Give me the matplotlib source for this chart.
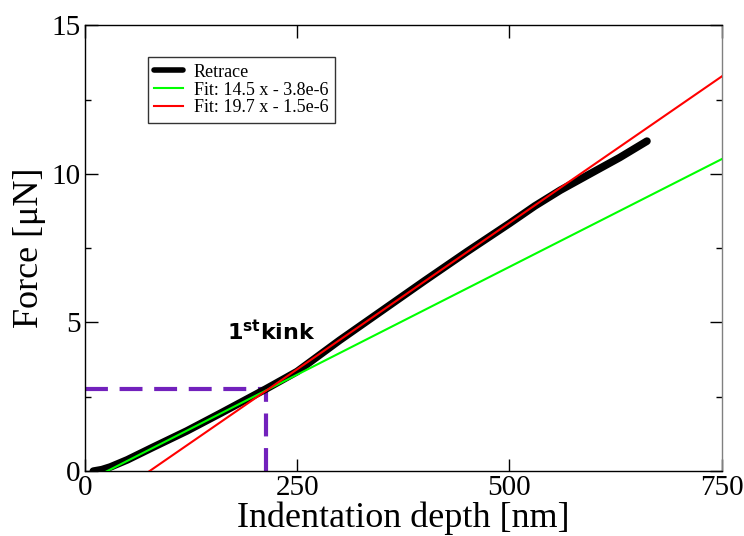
import matplotlib
matplotlib.use("Agg")
import matplotlib.pyplot as plt
import numpy as np
from matplotlib.ticker import MultipleLocator

# Retrace curve: indentation depth (nm) and force (uN)
depth_nm = [10, 20, 30, 50, 80, 120, 160, 213, 250, 300, 350, 400,
            450, 500, 530, 560, 600, 630, 662]
force_uN = [0.0, 0.05, 0.14, 0.38, 0.8, 1.35, 1.95, 2.76, 3.35, 4.4,
            5.4, 6.4, 7.38, 8.33, 8.92, 9.45, 10.08, 10.55, 11.1]

# Linear fits, SI units: slope in N/m, intercept in N
fit_slopes = [14.5, 19.7]
fit_intercepts = [-3.8e-7, -1.5e-6]
fit_labels = ["Fit: 14.5 x - 3.8e-6", "Fit: 19.7 x - 1.5e-6"]
fit_colors = ["#00ff00", "#ff0000"]

# First kink position
kink_depth = 213
kink_force = 2.76

plt.rcParams["font.family"] = ["Liberation Serif", "DejaVu Serif"]

fig = plt.figure(figsize=(7.44, 5.36), dpi=100)
ax = fig.add_axes([0.114, 0.121, 0.856, 0.832])

ax.plot(depth_nm, force_uN, color="black", lw=5.5, solid_capstyle="round",
        solid_joinstyle="round", label="Retrace", zorder=3)

xs = np.array([0.0, 750.0])
for k, b, lab, c in zip(fit_slopes, fit_intercepts, fit_labels, fit_colors):
    # convert N/m -> uN/nm and N -> uN
    ys = k * 1e-3 * xs + b * 1e6
    ax.plot(xs, ys, color=c, lw=1.5, label=lab, zorder=4)

purple = "#7221bc"
ax.plot([0, kink_depth], [kink_force, kink_force], color=purple, lw=3,
        dashes=(5.5, 2.8), zorder=2)
ax.plot([kink_depth, kink_depth], [0, kink_force], color=purple, lw=3,
        dashes=(5.5, 2.8), zorder=2)

ax.text(168, 4.4, r"$\mathbf{1^{st}}$kink", family="DejaVu Sans",
        fontweight="bold", fontsize=16)

ax.set_xlim(0, 750)
ax.set_ylim(0, 15)
ax.xaxis.set_major_locator(MultipleLocator(250))
ax.yaxis.set_major_locator(MultipleLocator(5))
ax.yaxis.set_minor_locator(MultipleLocator(2.5))
ax.tick_params(which="both", direction="in", top=True, right=True,
               labelsize=21, pad=3)
ax.tick_params(which="major", length=9, width=1)
ax.tick_params(which="minor", length=4.5, width=1)
for s in ax.spines.values():
    s.set_linewidth(1)
ax.spines["right"].set_color("#808080")

ax.set_xlabel("Indentation depth [nm]", fontsize=26, labelpad=0)
ax.set_ylabel("Force [\u03bcN]", fontsize=26, labelpad=4)

leg = ax.legend(loc="upper left", bbox_to_anchor=(0.099, 0.928),
                fontsize=13, frameon=True, fancybox=False, borderpad=0.35,
                handlelength=1.6, labelspacing=0.05, handletextpad=0.6,
                borderaxespad=0)
leg.get_frame().set_edgecolor("black")
leg.get_frame().set_linewidth(1)
leg.legend_handles[0].set_linewidth(4)

fig.savefig("out.png", dpi=100)
